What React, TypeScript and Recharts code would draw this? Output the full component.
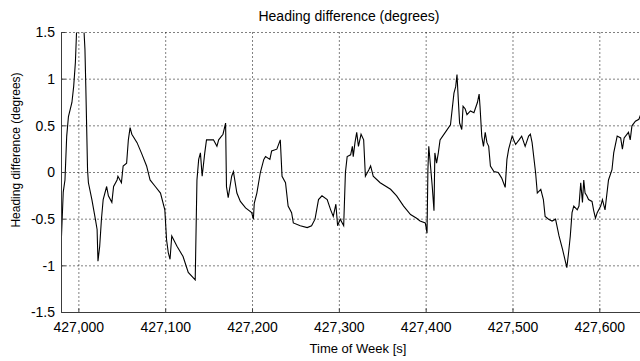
import React from 'react';
import { LineChart, Line, XAxis, YAxis, CartesianGrid } from 'recharts';

// Time of week [s]
const timeOfWeek: number[] = [
  426980, 426982, 426984, 426986, 426988, 426992, 426994, 426996, 427001, 427007,
  427008, 427010, 427011, 427015, 427019, 427021, 427022, 427024, 427026, 427028,
  427032, 427034, 427038, 427040, 427044, 427045, 427049, 427051, 427055, 427057,
  427059, 427061, 427067, 427072, 427078, 427082, 427088, 427094, 427099, 427101,
  427103, 427105, 427107, 427113, 427120, 427126, 427134, 427136, 427138, 427140,
  427142, 427145, 427147, 427155, 427159, 427161, 427166, 427169, 427170, 427172,
  427176, 427178, 427182, 427186, 427192, 427199, 427201, 427202, 427205, 427209,
  427213, 427215, 427220, 427222, 427228, 427232, 427234, 427238, 427241, 427245,
  427247, 427255, 427263, 427268, 427272, 427276, 427280, 427286, 427290, 427293,
  427296, 427298, 427301, 427305, 427307, 427309, 427313, 427315, 427316, 427318,
  427320, 427322, 427325, 427328, 427330, 427334, 427336, 427339, 427347, 427359,
  427366, 427374, 427382, 427389, 427393, 427399, 427401, 427402, 427403, 427405,
  427407, 427409, 427410, 427412, 427414, 427416, 427422, 427428, 427432, 427434,
  427435.5, 427437, 427438.5, 427441, 427442.5, 427445, 427447, 427451, 427455, 427459,
  427461, 427462, 427464, 427466, 427468, 427470, 427472, 427474, 427478, 427483,
  427487, 427491, 427493, 427495, 427499, 427503, 427507, 427510, 427514, 427518,
  427520, 427522, 427526, 427528, 427532, 427535, 427537, 427541, 427545, 427549,
  427553, 427557, 427562, 427564, 427566, 427568, 427570, 427574, 427576, 427578,
  427580, 427581.5, 427583, 427585, 427587, 427591, 427593, 427595, 427597, 427601,
  427603, 427606, 427610, 427614, 427616, 427620, 427624, 427626, 427628, 427633,
  427635, 427637, 427641, 427645, 427647,
];

// Heading difference (degrees)
const headingDiff: number[] = [
  -0.68, -0.21, -0.08, 0.39, 0.6, 0.75, 0.92, 1.18, 2.4, 1.32,
  0.92, 0.03, -0.11, -0.29, -0.5, -0.61, -0.95, -0.79, -0.5, -0.29,
  -0.15, -0.25, -0.32, -0.15, -0.08, -0.04, -0.11, 0.07, 0.1, 0.35,
  0.48, 0.41, 0.32, 0.21, 0.07, -0.08, -0.15, -0.22, -0.4, -0.72,
  -0.86, -0.93, -0.68, -0.79, -0.9, -1.07, -1.15, -0.08, 0.14, 0.21,
  -0.04, 0.21, 0.35, 0.35, 0.28, 0.35, 0.41, 0.53, -0.15, -0.27,
  -0.04, 0.01, -0.22, -0.31, -0.38, -0.43, -0.5, -0.33, -0.22, 0.0,
  0.14, 0.17, 0.14, 0.23, 0.25, 0.35, -0.04, -0.11, -0.36, -0.43,
  -0.54, -0.57, -0.59, -0.57, -0.5, -0.29, -0.25, -0.29, -0.4, -0.47,
  -0.34, -0.57, -0.5, -0.57, 0.0, 0.17, 0.19, 0.28, 0.17, 0.32,
  0.43, 0.28, 0.41, 0.35, -0.04, 0.03, 0.07, -0.04, -0.11, -0.18,
  -0.25, -0.36, -0.45, -0.49, -0.52, -0.54, -0.65, 0.03, 0.28, 0.07,
  -0.15, -0.41, 0.21, 0.1, 0.21, 0.35, 0.43, 0.51, 0.85, 0.92,
  1.05, 0.78, 0.53, 0.46, 0.71, 0.68, 0.62, 0.66, 0.64, 0.75,
  0.84, 0.71, 0.39, 0.28, 0.43, 0.32, 0.28, 0.07, 0.01, 0.0,
  -0.06, -0.16, 0.14, 0.25, 0.39, 0.3, 0.35, 0.39, 0.28, 0.39,
  0.41, 0.32, 0.0, -0.22, -0.18, -0.29, -0.47, -0.5, -0.52, -0.5,
  -0.68, -0.82, -1.02, -0.86, -0.68, -0.43, -0.36, -0.4, -0.36, -0.11,
  -0.32, -0.08, -0.22, -0.25, -0.29, -0.31, -0.41, -0.49, -0.43, -0.36,
  -0.29, -0.4, -0.08, 0.03, 0.21, 0.39, 0.37, 0.25, 0.37, 0.43,
  0.35, 0.5, 0.55, 0.57, 0.62,
];

const xTicks: number[] = [427000, 427100, 427200, 427300, 427400, 427500, 427600];
const yTicks: number[] = [-1.5, -1, -0.5, 0, 0.5, 1, 1.5];

const chartTitle = 'Heading difference (degrees)';
const xLabel = 'Time of Week [s]';
const yLabel = 'Heading difference (degrees)';

const data = timeOfWeek.map((t, i) => ({ t, v: headingDiff[i] }));

const FONT = '"Liberation Sans", Arial, Helvetica, sans-serif';
const AXIS_COLOR = '#3c3c3c';

const fmtTime = (t: number) => t.toLocaleString('en-US');
const fmtDeg = (v: number) => String(v);

export default function App() {
  return (
    <div
      style={{
        position: 'absolute',
        left: 0,
        top: 0,
        width: 640,
        height: 361,
        overflow: 'hidden',
        background: '#ffffff',
      }}
    >
      <LineChart
        width={642}
        height={361}
        data={data}
        margin={{ top: 32.5, right: 0.5, bottom: 0, left: 0 }}
      >
        <CartesianGrid stroke="#000000" strokeDasharray="1 3" horizontal vertical />
        <XAxis
          dataKey="t"
          type="number"
          domain={[426980, 427648]}
          ticks={xTicks}
          tickFormatter={fmtTime}
          allowDataOverflow
          height={48.5}
          tickSize={-4}
          tickMargin={14}
          stroke={AXIS_COLOR}
          tick={{ fill: '#000', fontSize: 14, fontFamily: FONT }}
          tickLine={{ stroke: AXIS_COLOR }}
          axisLine={{ stroke: AXIS_COLOR }}
        />
        <XAxis
          xAxisId="top"
          orientation="top"
          dataKey="t"
          type="number"
          domain={[426980, 427648]}
          ticks={xTicks}
          tickFormatter={() => ''}
          allowDataOverflow
          height={0}
          tickSize={-4}
          stroke={AXIS_COLOR}
          tickLine={{ stroke: AXIS_COLOR }}
          axisLine={{ stroke: AXIS_COLOR }}
        />
        <YAxis
          type="number"
          domain={[-1.5, 1.5]}
          ticks={yTicks}
          tickFormatter={fmtDeg}
          allowDataOverflow
          width={61.5}
          tickSize={-4}
          tickMargin={10.5}
          stroke={AXIS_COLOR}
          tick={{ fill: '#000', fontSize: 14, fontFamily: FONT }}
          tickLine={{ stroke: AXIS_COLOR }}
          axisLine={{ stroke: AXIS_COLOR }}
        />
        <Line
          type="linear"
          dataKey="v"
          stroke="#000000"
          strokeWidth={1.1}
          dot={false}
          activeDot={false}
          isAnimationActive={false}
        />
      </LineChart>
      <svg
        width={640}
        height={361}
        style={{ position: 'absolute', left: 0, top: 0, pointerEvents: 'none' }}
      >
        <text x={349} y={21.3} textAnchor="middle" fontSize={14} fontFamily={FONT} fill="#000">
          {chartTitle}
        </text>
        <text x={358} y={353} textAnchor="middle" fontSize={13} fontFamily={FONT} fill="#000">
          {xLabel}
        </text>
        <text
          transform="translate(20.3,150) rotate(-90)"
          textAnchor="middle"
          fontSize={12}
          fontFamily={FONT}
          fill="#000"
        >
          {yLabel}
        </text>
      </svg>
    </div>
  );
}
